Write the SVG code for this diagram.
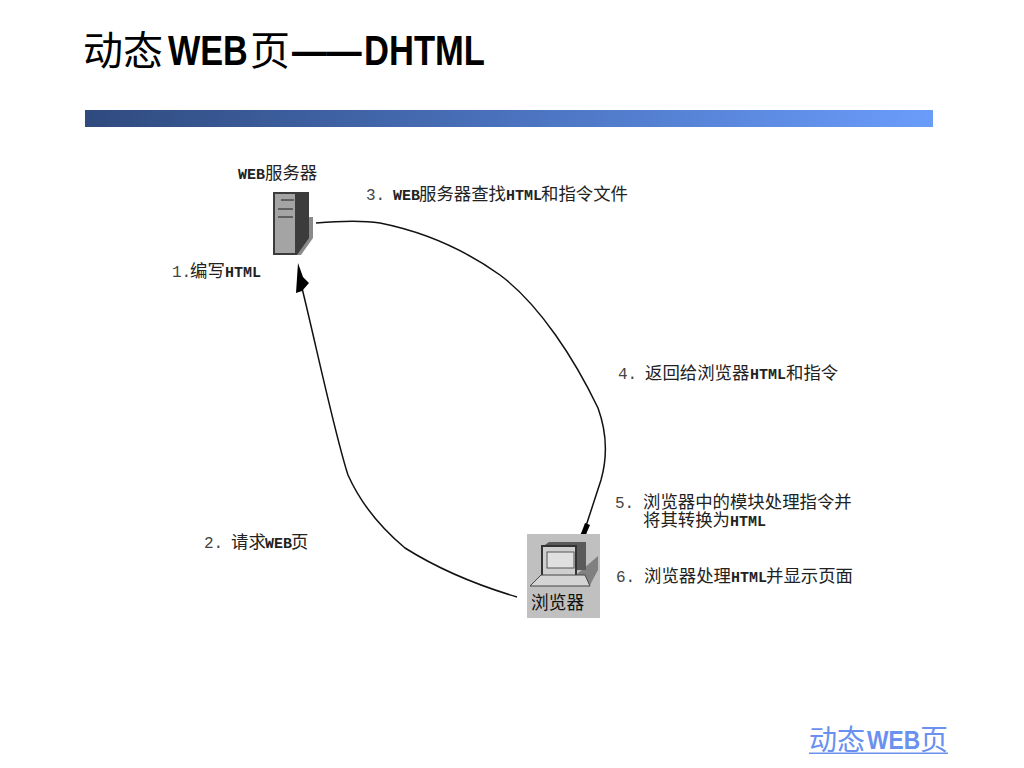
<svg xmlns="http://www.w3.org/2000/svg" width="1024" height="768" viewBox="0 0 1024 768">
<defs>
<linearGradient id="bar" x1="0" x2="1" y1="0" y2="0"><stop offset="0" stop-color="#2f4a7e"/><stop offset="0.5" stop-color="#4a72bd"/><stop offset="1" stop-color="#6a9cfb"/></linearGradient>
</defs>
<style>
text{font-family:"Noto Sans CJK SC",sans-serif}
.t{font-size:40px;fill:#000}
.tb{font-size:42px;font-weight:bold;fill:#000;font-family:"Liberation Sans",sans-serif}
.f{font-size:28px;fill:#6a90f0}
.fb{font-size:25px;font-weight:bold;fill:#6a90f0;font-family:"Liberation Sans",sans-serif}
.l{font-size:17.4px;fill:#222}
.m{font-family:"Liberation Mono",monospace;font-size:15px;font-weight:bold}
.n{font-family:"Liberation Mono",monospace;font-size:16px;fill:#444}
.c{fill:none;stroke:#111;stroke-width:1.5}
</style>
<rect width="1024" height="768" fill="#fff"/>
<g id="title">
<text class="t" x="83" y="65">动态</text>
<text class="tb" transform="translate(168 65) scale(.815 1)">WEB</text>
<text class="t" x="250" y="65">页</text>
<text class="tb" transform="translate(292 65) scale(.83 1)">——</text>
<text class="tb" transform="translate(364 65) scale(.823 1)">DHTML</text>
</g>
<rect id="title-bar" x="85" y="110" width="848" height="17" fill="url(#bar)"/>
<g id="connectors">
<path class="c" d="M316 223C340 221 360 220 380 223C425 232 465 250 500 275C540 305 575 360 598 408C606 430 608 455 601 480L586 526"/>
<path class="c" d="M517 597C480 586 440 570 405 548C380 527 360 502 348 475C335 435 316 345 302 288"/>
<path d="M298 263L296 293L302 291L309 283L303 277Z" fill="#000"/>
<path d="M585 523L590 525L587 532L584 541L578 540L582 531Z" fill="#000"/>
</g>
<g id="web-server">
<text class="l" y="179"><tspan class="m" x="238 247 256">WEB</tspan><tspan x="265">服务器</tspan></text>
<path d="M305 217H313V238L301 255H296V217Z" fill="#8a8a8a"/>
<path d="M273 192H309V238L297 255H273Z" fill="#3c3c3c"/>
<rect x="275" y="194" width="20" height="59" fill="#a4a4a4"/>
<path d="M281 200H294M278 209H293M278 217H293" stroke="#4a4a4a" stroke-width="1.5"/>
</g>
<g id="browser">
<rect x="527" y="534" width="73" height="84" fill="#c0c0c0"/>
<path d="M576 575L598 556V570L590 585H576Z" fill="#808080"/>
<path d="M542 547L549 542H586V570H576V548Z" fill="#5a5a5a"/>
<rect x="542" y="546" width="34" height="30" fill="#cfcfcf" stroke="#333" stroke-width="2"/>
<rect x="547" y="552" width="27" height="16" fill="#e0e0e0" stroke="#555"/>
<path d="M530 586L541 575H585L590 586Z" fill="#d4d4d4" stroke="#444"/>
<text x="531" y="609" font-size="17.7" fill="#111">浏览器</text>
</g>
<g id="labels">
<text class="l" y="277"><tspan class="n" x="172">1.</tspan><tspan x="190">编写</tspan><tspan class="m" x="225 234 243 252">HTML</tspan></text>
<text class="l" y="200"><tspan class="n" x="366">3.</tspan><tspan class="m" x="393 402 411">WEB</tspan><tspan x="419">服务器查找</tspan><tspan class="m" x="506 515 524 533">HTML</tspan><tspan x="541">和指令文件</tspan></text>
<text class="l" y="379"><tspan class="n" x="618">4.</tspan><tspan x="645">返回给浏览器</tspan><tspan class="m" x="750 759 768 777">HTML</tspan><tspan x="786">和指令</tspan></text>
<text class="l" y="548"><tspan class="n" x="204">2.</tspan><tspan x="231">请求</tspan><tspan class="m" x="265 274 283">WEB</tspan><tspan x="291">页</tspan></text>
<text class="l" y="508"><tspan class="n" x="615">5.</tspan><tspan x="643">浏览器中的模块处理指令并</tspan></text>
<text class="l" y="526"><tspan x="643">将其转换为</tspan><tspan class="m" x="730 739 748 757">HTML</tspan></text>
<text class="l" y="582"><tspan class="n" x="616">6.</tspan><tspan x="644">浏览器处理</tspan><tspan class="m" x="731 740 749 758">HTML</tspan><tspan x="766">并显示页面</tspan></text>
</g>
<g id="footer-link">
<text class="f" x="809" y="750">动态</text>
<text class="fb" transform="translate(867 749) scale(.91 1)">WEB</text>
<text class="f" x="920" y="750">页</text>
<rect x="809" y="752.5" width="139" height="1.5" fill="#6a90f0"/>
</g>
</svg>
